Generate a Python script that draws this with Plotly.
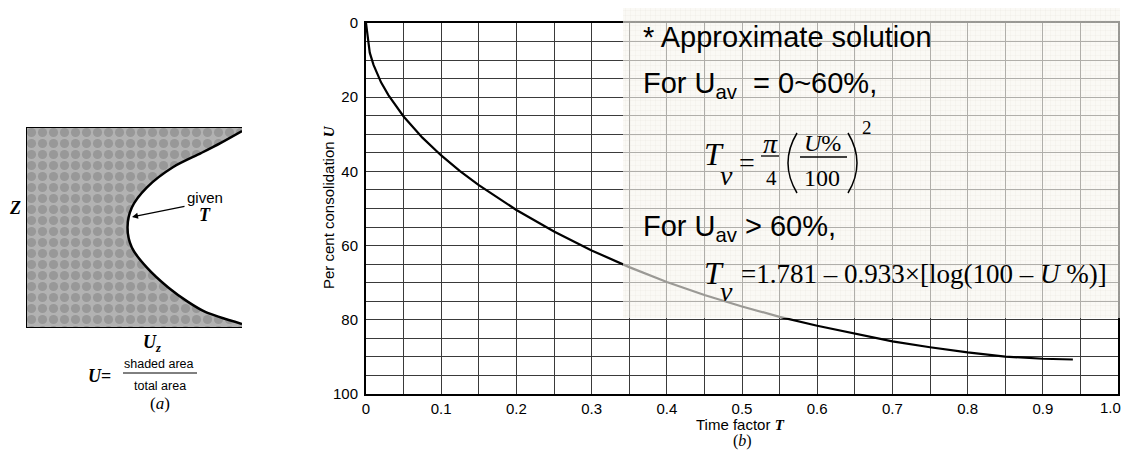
import plotly.graph_objects as go

# page body adds an 8px margin; figure sized/offset to compensate
OFF = 8
W, H = 1131 - OFF, 453 - OFF

# ---- data ----
time_factor = [0, 0.005, 0.01, 0.02, 0.03, 0.05, 0.075, 0.1, 0.125, 0.15, 0.2, 0.25,
               0.3, 0.35, 0.4, 0.45, 0.5, 0.55, 0.6, 0.65, 0.7, 0.75, 0.8, 0.85, 0.9, 0.94]
consolidation = [0, 8, 11.3, 16, 19.5, 25.2, 30.9, 35.7, 39.9, 43.7, 50.4, 56.2,
                 61.3, 65.8, 69.8, 73.3, 76.4, 79.2, 81.6, 83.8, 85.8, 87.4, 88.8, 89.9, 90.5, 90.7]
x_ticks = [0, 0.1, 0.2, 0.3, 0.4, 0.5, 0.6, 0.7, 0.8, 0.9, 1.0]
x_labels = ["0", "0.1", "0.2", "0.3", "0.4", "0.5", "0.6", "0.7", "0.8", "0.9", "1.0"]
y_ticks = [0, 20, 40, 60, 80, 100]
y_labels = ["0", "20", "40", "60", "80", "100"]

# panel (a) isochrone sketch (depth Z vs Uz)
iso_z = [0.02, 0.08, 0.13, 0.2, 0.3, 0.4, 0.5, 0.6, 0.7, 0.8, 0.87, 0.92, 0.98]
iso_uz = [1.0, 0.9, 0.81, 0.68, 0.56, 0.49, 0.47, 0.49, 0.56, 0.66, 0.75, 0.83, 1.0]


def px(x):
    return (x - OFF) / W


def py(y):
    return 1 - (y - OFF) / H


SANS = "Liberation Sans, Arial, sans-serif"
SERIF = "Liberation Serif, Times New Roman, serif"

fig = go.Figure()

# main curve
fig.add_trace(go.Scatter(x=time_factor, y=consolidation, mode="lines",
                         line=dict(color="black", width=2.2), xaxis="x", yaxis="y",
                         showlegend=False, hoverinfo="skip"))

# panel (a): shaded region bounded by isochrone
shade_x = [0, 1] + iso_uz + [1, 0, 0]
shade_z = [0, 0] + iso_z + [1, 1, 0]
fig.add_trace(go.Scatter(x=shade_x, y=shade_z, mode="lines", fill="toself",
                         line=dict(width=0, color="rgba(0,0,0,0)", shape="spline", smoothing=0.6),
                         fillcolor="#a4a4a4",
                         fillpattern=dict(shape=".", size=11, solidity=0.55,
                                          fgcolor="#7e7e7e", bgcolor="#b2b2b2"),
                         xaxis="x2", yaxis="y2", showlegend=False, hoverinfo="skip"))
fig.add_trace(go.Scatter(x=iso_uz, y=iso_z, mode="lines",
                         line=dict(color="black", width=2.5, shape="spline", smoothing=0.8),
                         xaxis="x2", yaxis="y2", showlegend=False, hoverinfo="skip"))
# box outline (top, left, bottom)
fig.add_trace(go.Scatter(x=[1, 0, 0, 1], y=[0, 0, 1, 1], mode="lines",
                         line=dict(color="black", width=2),
                         xaxis="x2", yaxis="y2", showlegend=False, hoverinfo="skip"))

# note box overlay with fine grid texture (pixel coordinates of the page)
fig.add_trace(go.Scatter(x=[623, 1120, 1120, 623, 623], y=[2, 2, 318, 318, 2], mode="lines",
                         fill="toself", line=dict(width=0, color="rgba(0,0,0,0)"),
                         fillcolor="rgba(246,243,234,0.6)",
                         fillpattern=dict(shape="+", size=5, solidity=0.15,
                                          fgcolor="rgba(190,185,175,0.45)",
                                          bgcolor="rgba(247,245,238,0.62)"),
                         xaxis="x3", yaxis="y3", showlegend=False, hoverinfo="skip"))

grid_col = "#3a3a3a"
# last x label is drawn as an annotation so it is not clipped at the page edge
tick_text_drawn = x_labels[:-1] + [""]
fig.update_layout(
    width=W, height=H,
    margin=dict(l=0, r=0, t=0, b=0, autoexpand=False),
    paper_bgcolor="white", plot_bgcolor="rgba(0,0,0,0)",
    xaxis=dict(domain=[px(366), px(1118)], range=[0, 1.0], tickvals=x_ticks, ticktext=tick_text_drawn,
               showgrid=True, gridcolor=grid_col, gridwidth=1,
               minor=dict(dtick=0.05, showgrid=True, gridcolor=grid_col, gridwidth=1),
               showline=True, linecolor="black", linewidth=2, mirror=True,
               ticks="",
               tickfont=dict(family=SANS, size=15, color="black"), zeroline=False,
               automargin=False, anchor="y"),
    yaxis=dict(domain=[py(394), py(23)], range=[100, 0], tickvals=y_ticks, ticktext=y_labels,
               showgrid=True, gridcolor=grid_col, gridwidth=1,
               minor=dict(dtick=5, showgrid=True, gridcolor=grid_col, gridwidth=1),
               showline=True, linecolor="black", linewidth=2, mirror=True,
               ticks="outside", ticklen=3, tickcolor="rgba(0,0,0,0)",
               tickfont=dict(family=SANS, size=15, color="black"), zeroline=False,
               automargin=False, anchor="x"),
    xaxis2=dict(domain=[px(26), px(242)], range=[0, 1], visible=False, anchor="y2"),
    yaxis2=dict(domain=[py(328), py(127)], range=[1, 0], visible=False, anchor="x2"),
    xaxis3=dict(domain=[0, 1], range=[OFF, OFF + W], visible=False, anchor="y3"),
    yaxis3=dict(domain=[0, 1], range=[OFF + H, OFF], visible=False, anchor="x3"),
)

ann = []


def text(x, y, s, family=SANS, size=14, xanchor="center", yanchor="middle", angle=0, color="black"):
    ann.append(dict(x=px(x), y=py(y), xref="paper", yref="paper", text=s, showarrow=False,
                    xanchor=xanchor, yanchor=yanchor, textangle=angle,
                    font=dict(family=family, size=size, color=color)))


# last x tick label
ann.append(dict(x=x_ticks[-1], y=0, xref="x", yref="paper", yshift=0, text=x_labels[-1],
                showarrow=False, xanchor="right", yanchor="middle",
                font=dict(family=SANS, size=15, color="black")))
ann[-1]["y"] = py(407)
ann[-1]["x"] = px(1123)
ann[-1]["xref"] = "paper"

# axis titles for (b)
text(740, 424, "Time factor <b><i><span style='font-family:Liberation Serif'>T</span></i></b>", size=15)
text(742, 441, "(<i>b</i>)", family=SERIF, size=16)
text(328, 207, "Per cent consolidation <b><i><span style='font-family:Liberation Serif'>U</span></i></b>",
     size=15, angle=-90)

# panel (a) labels
text(15, 208, "<b><i>Z</i></b>", family=SERIF, size=18)
text(205, 198, "given", size=15)
text(205, 215, "<b><i>T</i></b>", family=SERIF, size=18)
text(152, 343, "<b><i>U<sub>z</sub></i></b>", family=SERIF, size=18)
text(99, 376, "<b><i>U</i>=</b>", family=SERIF, size=18)
text(159, 364, "shaded area", size=12.5)
text(160, 386, "total area", size=12.5)
text(160, 403, "(<i>a</i>)", family=SERIF, size=17)

# arrow in (a)
ann.append(dict(x=px(132), y=py(217), ax=54, ay=-11, xref="paper", yref="paper",
                axref="pixel", ayref="pixel", showarrow=True, arrowhead=2, arrowsize=1,
                arrowwidth=1.2, arrowcolor="black", text=""))

# note box text
text(641, 37, "* Approximate solution", size=29, xanchor="left")
text(641, 85, "For U<sub>av</sub> &nbsp;= 0~60%,", size=29, xanchor="left")
text(641, 228, "For U<sub>av</sub> &gt; 60%,", size=29, xanchor="left")

# equation 1
text(714, 154, "<i>T</i>", family=SERIF, size=32)
text(726, 175, "<i>v</i>", family=SERIF, size=28)
text(747, 162, "=", family=SERIF, size=28)
text(770, 144, "<i>π</i>", family=SERIF, size=28)
text(772, 178, "4", family=SERIF, size=21)
text(822, 143, "<i>U</i>%", family=SERIF, size=24)
text(822, 178, "100", family=SERIF, size=24)
text(867, 127, "2", family=SERIF, size=19)

# equation 2
text(714, 273, "<i>T</i>", family=SERIF, size=32)
text(726, 291, "<i>v</i>", family=SERIF, size=28)
text(739, 274, "=1.781 – 0.933×[log(100 – <i>U</i> %)]", family=SERIF, size=27, xanchor="left")

fig.update_layout(annotations=ann)


def paren(x_end, x_mid, y_top, y_bot):
    ym = (y_top + y_bot) / 2
    return (f"M {px(x_end)} {py(y_top)} Q {px(x_mid)} {py(ym)} {px(x_end)} {py(y_bot)}")


shapes = [
    dict(type="line", xref="paper", yref="paper", x0=px(761), x1=px(779), y0=py(156), y1=py(156),
         line=dict(color="black", width=1.3)),
    dict(type="line", xref="paper", yref="paper", x0=px(800), x1=px(847), y0=py(157), y1=py(157),
         line=dict(color="black", width=1.3)),
    dict(type="path", xref="paper", yref="paper", path=paren(797, 779, 133, 193),
         line=dict(color="black", width=1.5)),
    dict(type="path", xref="paper", yref="paper", path=paren(848, 866, 133, 193),
         line=dict(color="black", width=1.5)),
    dict(type="line", xref="paper", yref="paper", x0=px(123), x1=px(197), y0=py(373), y1=py(373),
         line=dict(color="black", width=1)),
]
fig.update_layout(shapes=shapes)

fig.write_html("out.html")
